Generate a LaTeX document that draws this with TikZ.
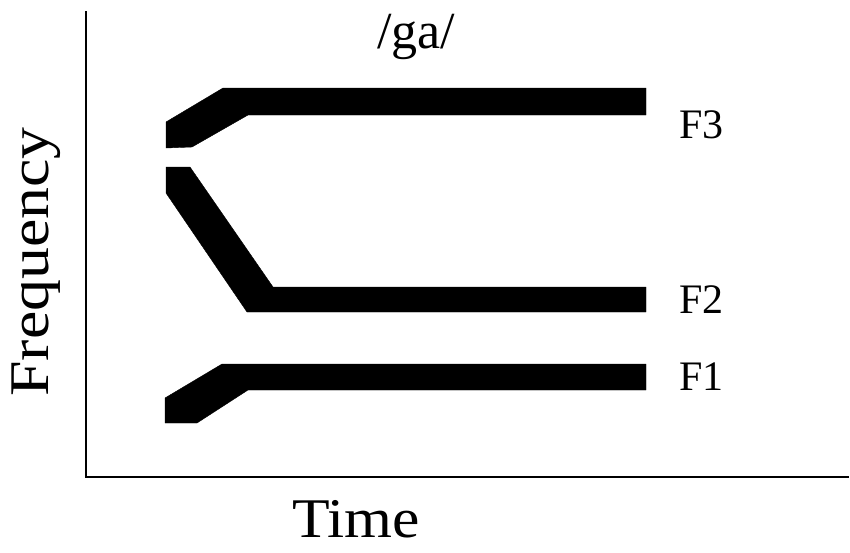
\documentclass[tikz,border=0pt]{standalone}
\usepackage{fontspec}
\setmainfont{Liberation Serif}
\begin{document}
\begin{tikzpicture}[x=1pt,y=-1pt,
  formant/.style={fill=black,draw=black,line width=0.4pt,line join=round},
  axisline/.style={line width=2pt,line cap=rect},
  flabel/.style={inner sep=0pt,anchor=base west,font=\fontsize{42}{48}\selectfont},
  bigtext/.style={inner sep=0pt,font=\fontsize{56}{64}\selectfont}]
\useasboundingbox (0,0) rectangle (850,552);
% axes
\coordinate (top) at (86,12);
\coordinate (origin) at (86,477);
\coordinate (right) at (848,477);
\draw[axisline] (top) -- (origin) -- (right);
% F3
\fill[formant] (166,122) -- (223,88) -- (646,88) -- (646,115) -- (248,115) -- (192,147) -- (166,148) -- cycle;
% F2
\fill[formant] (166,167) -- (190,167) -- (273,287) -- (646,287) -- (646,312) -- (247,312) -- (166,193) -- cycle;
% F1
\fill[formant] (165,398) -- (222,364) -- (646,364) -- (646,390) -- (248,390) -- (197,423) -- (165,423) -- cycle;
% labels
\node[flabel] (f3) at (679,138) {F3};
\node[flabel] (f2) at (679,313) {F2};
\node[flabel] (f1) at (679,390) {F1};
\node[inner sep=0pt,anchor=base,font=\fontsize{52}{58}\selectfont] (title) at (416,48) {/ga/};
\node[bigtext,anchor=base] (time) at (356,537) {\scalebox{1.1}[1]{Time}};
\node[bigtext,anchor=base,rotate=90] (freq) at (48,262) {\scalebox{1.14}[1]{Frequency}};
\end{tikzpicture}
\end{document}
